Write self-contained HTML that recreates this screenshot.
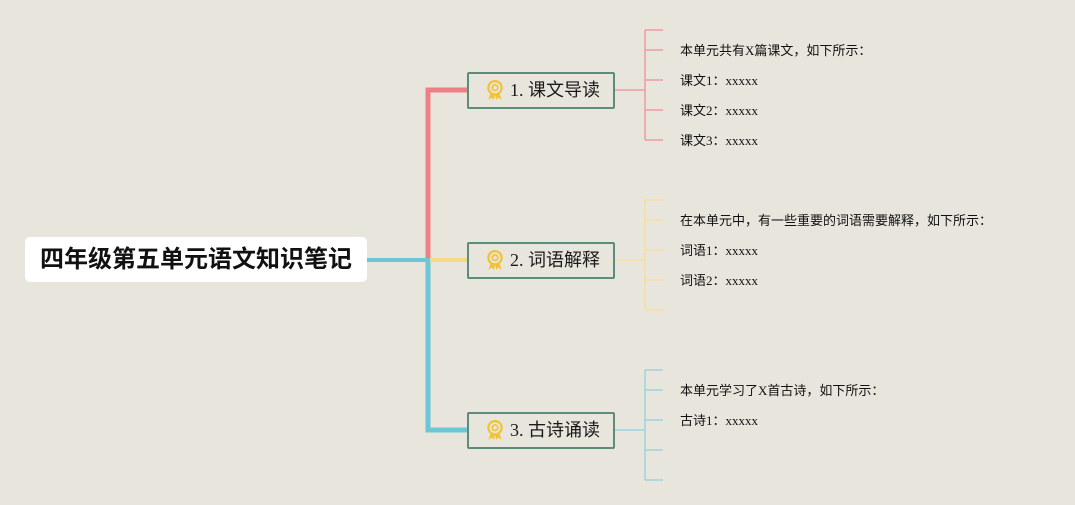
<!DOCTYPE html>
<html><head><meta charset="utf-8"><style>
body{margin:0;width:1075px;height:505px;background:#e8e5dd;overflow:hidden;position:relative;font-family:"Liberation Serif","Noto Sans CJK SC",serif}
.root{position:absolute;left:25px;top:237px;width:342px;height:45px;background:#fff;border-radius:5px;font:bold 24px "Liberation Sans","Noto Sans CJK SC",sans-serif;text-align:center;line-height:45px;color:#111}
.b{position:absolute;left:467px;width:144px;height:33px;border:2px solid #5b8c7c;border-radius:2px;font-size:18px;line-height:33px;color:#1a1a1a;box-sizing:content-box}
.b span{position:absolute;left:41px}
.b svg{position:absolute;left:16px;top:6px}
.t{position:absolute;left:680px;font-size:13px;color:#111;line-height:16px}
</style></head><body>
<svg width="1075" height="505" style="position:absolute;left:0;top:0">
<g fill="none" stroke-linecap="butt">
<path d="M367 260H428" stroke="#6cc6d8" stroke-width="4"/>
<path d="M428 262V90H467" stroke="#ee7f86" stroke-width="5"/>
<path d="M428 258V430H467" stroke="#6cc6d8" stroke-width="5"/>
<path d="M430 260H467" stroke="#f8d98a" stroke-width="4"/>
<g stroke="#ee9ca3" stroke-width="1.5"><path d="M614 90H645M645 30V140M645 30H663M645 50H663M645 80H663M645 110H663M645 140H663"/></g>
<g stroke="#f7dfa0" stroke-width="1.5"><path d="M614 260H645M645 200V310M645 200H663M645 220H663M645 250H663M645 280H663M645 310H663"/></g>
<g stroke="#99d3df" stroke-width="1.5"><path d="M614 430H645M645 370V480M645 370H663M645 390H663M645 420H663M645 450H663M645 480H663"/></g>
</g></svg>
<div class="root">四年级第五单元语文知识笔记</div>
<div class="b" style="top:72px"><svg width="20" height="22" viewBox="0 0 18 20"><circle cx="9" cy="7" r="6" fill="none" stroke="#f2c230" stroke-width="2"/><circle cx="9" cy="7" r="2.5" fill="none" stroke="#f2c230" stroke-width="1.5"/><path d="M5 12L3 18L6 16L8 18L9 13M13 12L15 18L12 16L10 18L9 13" fill="#f2c230"/></svg><span>1. 课文导读</span></div>
<div class="b" style="top:242px"><svg width="20" height="22" viewBox="0 0 18 20"><circle cx="9" cy="7" r="6" fill="none" stroke="#f2c230" stroke-width="2"/><circle cx="9" cy="7" r="2.5" fill="none" stroke="#f2c230" stroke-width="1.5"/><path d="M5 12L3 18L6 16L8 18L9 13M13 12L15 18L12 16L10 18L9 13" fill="#f2c230"/></svg><span>2. 词语解释</span></div>
<div class="b" style="top:412px"><svg width="20" height="22" viewBox="0 0 18 20"><circle cx="9" cy="7" r="6" fill="none" stroke="#f2c230" stroke-width="2"/><circle cx="9" cy="7" r="2.5" fill="none" stroke="#f2c230" stroke-width="1.5"/><path d="M5 12L3 18L6 16L8 18L9 13M13 12L15 18L12 16L10 18L9 13" fill="#f2c230"/></svg><span>3. 古诗诵读</span></div>
<div class="t" style="top:43px">本单元共有X篇课文，如下所示：</div>
<div class="t" style="top:73px">课文1：xxxxx</div>
<div class="t" style="top:103px">课文2：xxxxx</div>
<div class="t" style="top:133px">课文3：xxxxx</div>
<div class="t" style="top:213px">在本单元中，有一些重要的词语需要解释，如下所示：</div>
<div class="t" style="top:243px">词语1：xxxxx</div>
<div class="t" style="top:273px">词语2：xxxxx</div>
<div class="t" style="top:383px">本单元学习了X首古诗，如下所示：</div>
<div class="t" style="top:413px">古诗1：xxxxx</div>
</body></html>
